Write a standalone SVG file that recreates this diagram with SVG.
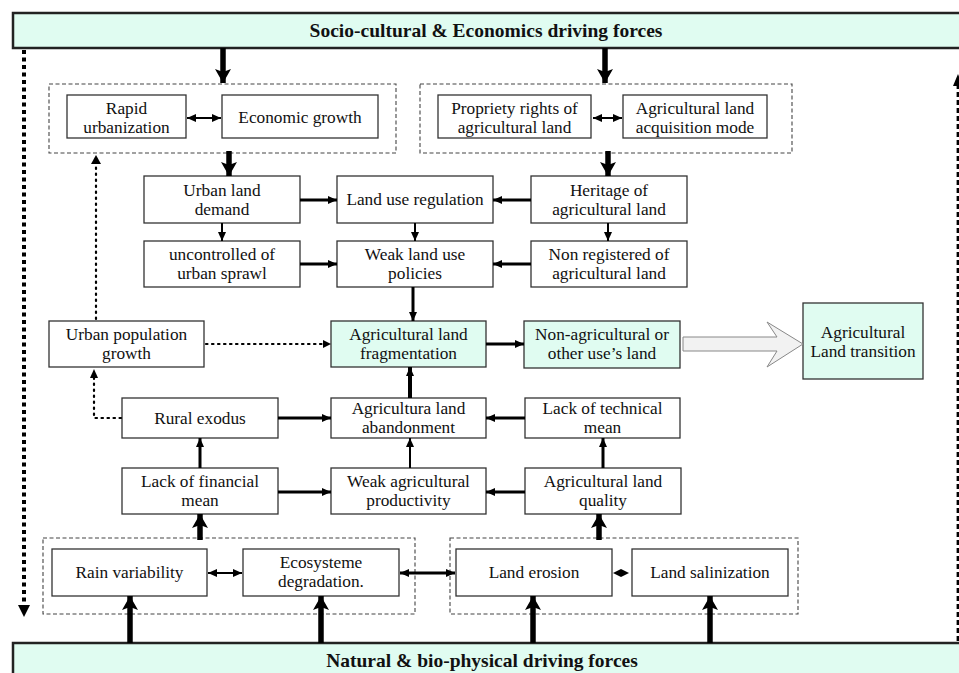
<svg xmlns="http://www.w3.org/2000/svg" width="959" height="673" viewBox="0 0 959 673">
<defs>
<style>
.box{fill:#fff;stroke:#333;stroke-width:1.3}
.green{fill:#e0fcf1;stroke:#333;stroke-width:1.3}
.banner{fill:#e0fcf1;stroke:#222;stroke-width:2.5}
.grp{fill:none;stroke:#444;stroke-width:1.1;stroke-dasharray:4 2.5}
text{font-family:"Liberation Serif","Times New Roman",serif;font-size:17.3px;fill:#111;text-anchor:middle}
.bt{font-weight:bold;font-size:19.5px}
.ln{fill:none;stroke:#000;stroke-width:2}
.ln3{fill:none;stroke:#000;stroke-width:3}
.thick{fill:none;stroke:#000;stroke-width:5.5}
.dot{fill:none;stroke:#000;stroke-width:2.2;stroke-dasharray:1.5 4.5;stroke-linecap:round}
.bigdash{fill:none;stroke:#000;stroke-width:4;stroke-dasharray:4 3.5}
.bigdash2{fill:none;stroke:#000;stroke-width:2.8;stroke-dasharray:5 3}
</style>
<marker id="ah" markerUnits="userSpaceOnUse" markerWidth="10" markerHeight="9" refX="9" refY="4" orient="auto-start-reverse" viewBox="0 0 10 9"><path d="M0,0 L9,4 L0,8 z" fill="#000"/></marker>
<marker id="ahT" markerUnits="userSpaceOnUse" markerWidth="16" markerHeight="17" refX="14" refY="8" orient="auto" viewBox="0 0 16 17"><path d="M0,0 L14,8 L0,16 L3,8 z" fill="#000"/></marker>
</defs>

<g id="banner-top"><rect class="banner" x="13" y="13" width="960" height="35"/><text class="bt" x="486" y="37">Socio-cultural &amp; Economics driving forces</text></g>
<g id="banner-bottom"><rect class="banner" x="13" y="643" width="960" height="45"/><text class="bt" x="482" y="667">Natural &amp; bio-physical driving forces</text></g>

<g id="group-urban"><rect class="grp" x="49" y="84" width="347" height="69"/></g>
<g id="group-tenure"><rect class="grp" x="420" y="84" width="372" height="69"/></g>
<g id="group-climate"><rect class="grp" x="43" y="538" width="372" height="76"/></g>
<g id="group-soil"><rect class="grp" x="450" y="538" width="348" height="76"/></g>

<g id="rapid-urbanization"><rect class="box" x="67" y="95" width="119" height="43"/><text x="126.5" y="114">Rapid</text><text x="126.5" y="133">urbanization</text></g>
<g id="economic-growth"><rect class="box" x="222" y="95" width="156" height="43"/><text x="300" y="123">Economic growth</text></g>
<g id="propriety-rights"><rect class="box" x="438" y="95" width="153" height="43"/><text x="514.5" y="114">Propriety rights of</text><text x="514.5" y="133">agricultural land</text></g>
<g id="acquisition-mode"><rect class="box" x="623" y="95" width="144" height="43"/><text x="695" y="114">Agricultural land</text><text x="695" y="133">acquisition mode</text></g>

<g id="urban-land-demand"><rect class="box" x="144" y="176" width="156" height="47"/><text x="222" y="196">Urban land</text><text x="222" y="215">demand</text></g>
<g id="land-use-regulation"><rect class="box" x="337" y="176" width="156" height="47"/><text x="415" y="205">Land use regulation</text></g>
<g id="heritage"><rect class="box" x="531" y="176" width="156" height="47"/><text x="609" y="196">Heritage of</text><text x="609" y="215">agricultural land</text></g>

<g id="uncontrolled-sprawl"><rect class="box" x="144" y="241" width="156" height="46"/><text x="222" y="260">uncontrolled of</text><text x="222" y="279">urban sprawl</text></g>
<g id="weak-policies"><rect class="box" x="337" y="241" width="156" height="46"/><text x="415" y="260">Weak land use</text><text x="415" y="279">policies</text></g>
<g id="non-registered"><rect class="box" x="531" y="241" width="156" height="46"/><text x="609" y="260">Non registered of</text><text x="609" y="279">agricultural land</text></g>

<g id="urban-population"><rect class="box" x="49" y="321" width="155" height="46"/><text x="126.5" y="340">Urban population</text><text x="126.5" y="359">growth</text></g>
<g id="fragmentation"><rect class="green" x="331" y="321" width="155" height="46"/><text x="408.5" y="340">Agricultural land</text><text x="408.5" y="359">fragmentation</text></g>
<g id="non-agricultural"><rect class="green" x="524" y="321" width="156" height="47"/><text x="602" y="340">Non-agricultural  or</text><text x="602" y="359">other use’s land</text></g>
<g id="land-transition"><rect class="green" x="803" y="303" width="120" height="76"/><text x="863" y="338">Agricultural</text><text x="863" y="357">Land transition</text></g>

<g id="rural-exodus"><rect class="box" x="122" y="398" width="156" height="40"/><text x="200" y="424">Rural exodus</text></g>
<g id="abandonment"><rect class="box" x="331" y="398" width="155" height="40"/><text x="408.5" y="414">Agricultura land</text><text x="408.5" y="433">abandonment</text></g>
<g id="technical-mean"><rect class="box" x="525" y="398" width="155" height="40"/><text x="602.5" y="414">Lack of technical</text><text x="602.5" y="433">mean</text></g>

<g id="financial-mean"><rect class="box" x="122" y="468" width="156" height="46"/><text x="200" y="487">Lack of financial</text><text x="200" y="506">mean</text></g>
<g id="productivity"><rect class="box" x="331" y="468" width="155" height="46"/><text x="408.5" y="487">Weak agricultural</text><text x="408.5" y="506">productivity</text></g>
<g id="land-quality"><rect class="box" x="525" y="468" width="156" height="46"/><text x="603" y="487">Agricultural land</text><text x="603" y="506">quality</text></g>

<g id="rain-variability"><rect class="box" x="52" y="549" width="155" height="47"/><text x="129.5" y="578">Rain variability</text></g>
<g id="ecosysteme"><rect class="box" x="243" y="549" width="156" height="47"/><text x="321" y="568">Ecosysteme</text><text x="321" y="587">degradation.</text></g>
<g id="land-erosion"><rect class="box" x="456" y="549" width="156" height="47"/><text x="534" y="578">Land erosion</text></g>
<g id="land-salinization"><rect class="box" x="632" y="549" width="156" height="47"/><text x="710" y="578">Land salinization</text></g>

<g id="connectors">
<line class="bigdash" x1="24" y1="50" x2="24" y2="606"/>
<path d="M18,605 L24,617 L30,605 z" fill="#000"/>
<line class="bigdash2" x1="958" y1="641" x2="958" y2="86"/>
<path d="M953,86 L958,74 L963,86 z" fill="#000"/>

<line class="thick" x1="223" y1="48" x2="223" y2="83" marker-end="url(#ahT)"/>
<line class="thick" x1="605" y1="48" x2="605" y2="83" marker-end="url(#ahT)"/>
<line class="thick" x1="229" y1="151" x2="229" y2="176" marker-end="url(#ahT)"/>
<line class="thick" x1="608" y1="151" x2="608" y2="176" marker-end="url(#ahT)"/>
<line class="thick" x1="200" y1="540" x2="200" y2="514" marker-end="url(#ahT)"/>
<line class="thick" x1="599" y1="540" x2="599" y2="514" marker-end="url(#ahT)"/>
<line class="thick" x1="130" y1="643" x2="130" y2="596" marker-end="url(#ahT)"/>
<line class="thick" x1="321" y1="643" x2="321" y2="596" marker-end="url(#ahT)"/>
<line class="thick" x1="533" y1="643" x2="533" y2="596" marker-end="url(#ahT)"/>
<line class="thick" x1="710" y1="643" x2="710" y2="596" marker-end="url(#ahT)"/>

<line class="ln" x1="187" y1="118" x2="221" y2="118" marker-start="url(#ah)" marker-end="url(#ah)"/>
<line class="ln" x1="593" y1="118" x2="622" y2="118" marker-start="url(#ah)" marker-end="url(#ah)"/>

<line class="ln3" x1="300" y1="200" x2="337" y2="200" marker-end="url(#ah)"/>
<line class="ln3" x1="531" y1="200" x2="493" y2="200" marker-end="url(#ah)"/>
<line class="ln" x1="222" y1="223" x2="222" y2="241" marker-end="url(#ah)"/>
<line class="ln" x1="415" y1="223" x2="415" y2="241" marker-end="url(#ah)"/>
<line class="ln" x1="608" y1="223" x2="608" y2="241" marker-end="url(#ah)"/>
<line class="ln3" x1="300" y1="264" x2="337" y2="264" marker-end="url(#ah)"/>
<line class="ln3" x1="531" y1="264" x2="493" y2="264" marker-end="url(#ah)"/>
<line class="ln3" x1="413" y1="287" x2="413" y2="321" marker-end="url(#ah)"/>

<line class="ln3" x1="486" y1="344" x2="524" y2="344" marker-end="url(#ah)"/>
<path d="M683,337 L777,337 L767,322 L803,344 L767,367 L777,351 L683,351 z" fill="#f2f2f2" stroke="#888" stroke-width="1"/>

<line class="dot" x1="206" y1="344" x2="324" y2="344"/>
<path d="M323,340 L331,344 L323,348 z" fill="#000"/>
<line class="dot" x1="96" y1="319" x2="96" y2="163"/>
<path d="M91,164 L96,155 L101,164 z" fill="#000"/>
<path class="dot" d="M121,418 H94 V377"/>
<path d="M90,378 L94,369 L98,378 z" fill="#000"/>

<line class="ln3" x1="278" y1="418" x2="331" y2="418" marker-end="url(#ah)"/>
<line class="ln3" x1="525" y1="418" x2="486" y2="418" marker-end="url(#ah)"/>
<line class="thick" style="stroke-width:4" x1="410" y1="398" x2="410" y2="367" marker-end="url(#ah)"/>
<line class="ln3" x1="278" y1="492" x2="331" y2="492" marker-end="url(#ah)"/>
<line class="ln3" x1="525" y1="492" x2="486" y2="492" marker-end="url(#ah)"/>
<line class="ln3" x1="200" y1="468" x2="200" y2="438" marker-end="url(#ah)"/>
<line class="ln" x1="410" y1="468" x2="410" y2="438" marker-end="url(#ah)"/>
<line class="ln3" x1="603" y1="468" x2="603" y2="438" marker-end="url(#ah)"/>

<line class="ln" x1="208" y1="573" x2="242" y2="573" marker-start="url(#ah)" marker-end="url(#ah)"/>
<line class="ln3" x1="400" y1="573" x2="455" y2="573" marker-start="url(#ah)" marker-end="url(#ah)"/>
<path d="M613,573 L621,569 L629,573 L621,577 z" fill="#000"/>
</g>
</svg>
